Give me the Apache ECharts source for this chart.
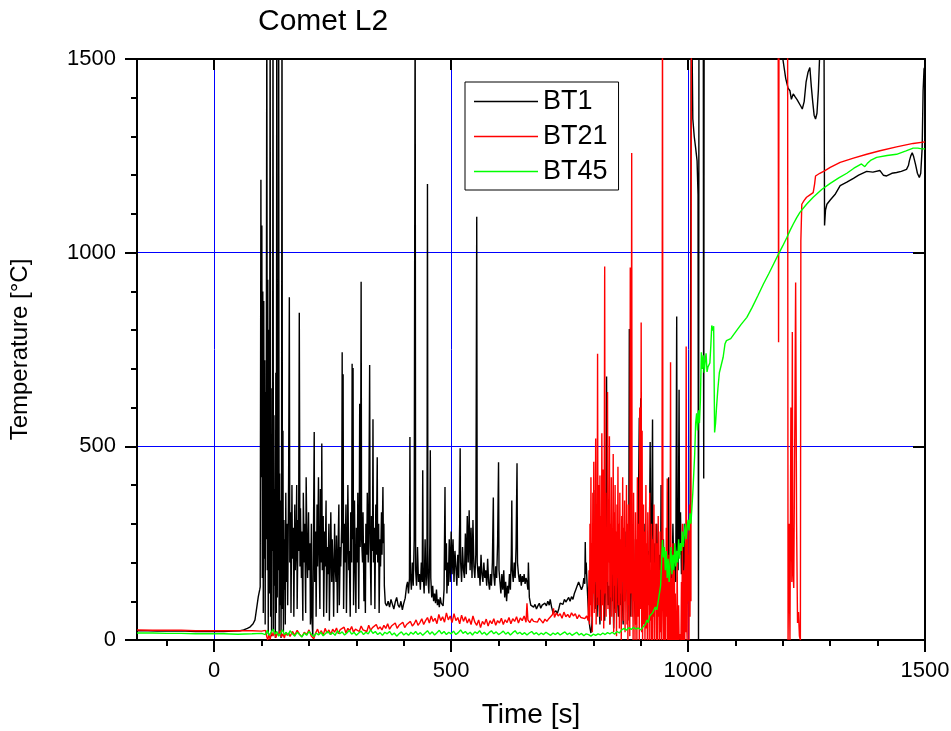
<!DOCTYPE html>
<html>
<head>
<meta charset="utf-8">
<script src="https://cdn.jsdelivr.net/npm/echarts@6/dist/echarts.min.js"></script>
<style>
  html, body { margin: 0; padding: 0; background: #ffffff; }
  #chart { width: 951px; height: 731px; }
</style>
</head>
<body>
<div id="chart"></div>
<script>
// Tick values shown on the axes
const timeTicks = [0, 500, 1000, 1500];
const tempTicks = [0, 500, 1000, 1500];
const seriesNames = ['BT1', 'BT21', 'BT45'];

// BT1 thermocouple: [time s, temperature °C]
const bt1 = [
  [-163,24],[-140,24],[-120,23],[-100,23],[-80,23],[-60,23],[-40,22],[-20,22],[0,22],[20,22],[40,23],[55,24],[62,26],[70,30],[76,34],[82,42],[86,52],[90,86],[93,112],[96,130],[97,137],
  [98.5,1188],[99.5,420],[100.5,1070],[101.5,160],[102.5,900],[103.5,70],[104.5,875],[105.5,210],[106.5,722],[107.5,40],[108.5,640],[109.5,260],[111,1700],[112,180],[113,930],[114,15],[115,801],[116,120],[117,560],[118,1700],[119,60],[120,650],[121,10],[122,470],[123,230],[124,1700],[125,25],[126,580],[127,140],[128,390],[129,5],[130,690],[131,70],[132,1700],[133,110],[134,470],[135,180],[136,1700],[137,15],[138,430],[139,90],[140,360],[141,5],[142,300],[143,1700],[144,80],[145,540],[146,20],[147,310],[148,130],[149,260],[150,40],[151,380],[152,150],
  [154,300],[155,90],[157,420],[158.5,885],[159.5,200],[161,330],[162,70],[164,400],[165,210],[167,290],[168,60],[170,350],[171,180],[173,260],[174,400],[175,80],[177,310],[178,230],[179.5,845],[181,190],[182,340],[184,160],[185,280],[187,50],[188,380],[190,200],[191,300],[193,70],[194,420],[196,210],[197,160],[199,330],[200,180],[202,250],[203,40],[205,300],[206,60],[208,10],[209,200],[211,537],[212,150],[214,280],[215,60],[217,350],[218,190],[220,420],[221,240],[223,80],[224,390],[226,200],[227,507],[228,180],[230,320],[231,60],[233,280],[234,190],[236,360],[237,70],[239,240],[240,170],[242,300],[243,50],[245,220],[246,330],[248,150],[249,260],[251,180],[252,60],[254,300],[255,200],[257,150],[258,270],[260,70],[261,210],[263,350],[264,90],[266,240],[267,190],[269,300],[270,743],[271,250],[272,686],[273,80],[275,300],[276,200],[278,350],[279,70],[281,260],[282,400],[284,180],[285,230],[287,60],[288,330],[290,200],[291,713],[292,260],[293,702],[294,90],[296,360],[297,220],[299,70],[300,290],[302,200],[303,380],[305,80],[306,270],[307,610],[308,240],[309,440],[310,925],[311,260],[313,200],[314,330],[316,100],[317,250],[319,70],[320,300],[322,220],[323,380],[325,200],[326,280],[328,710],[329,250],[331,90],[332,320],[334,230],[335,570],[336,200],[338,290],[339,80],[341,350],[342,220],[344,472],[345,200],[347,300],[348,70],[350,260],[351,190],[353,330],[354,220],[356,395],[357,250],[358,300],[359,140],[361,95],
  [364,88],[367,100],[370,85],[373,105],[376,92],[379,80],[382,98],[385,110],[388,90],[391,84],[394,100],[397,78],[400,95],[403,108],[406,140],
  [408,150],[410,120],[412,160],[413,524],[414,170],[416,130],[418,200],[420,140],[422,260],[424,1700],[425,180],[427,140],[429,240],[431,150],[433,170],[435,130],[437,200],[439,150],[440,438],[441,170],[443,120],[445,260],[447,140],[449,200],[450,1177],[451,160],[453,120],[455,250],[456,490],[457,160],[459,110],[461,140],[463,100],[465,120],[467,95],[469,130],[471,90],[473,105],[475,85],[477,110],[479,95],[481,100],[483,88],[485,130],[487,395],[488,180],[490,250],[491,120],[493,200],[494,140],[496,260],[498,150],
  [500,280],[502,170],[504,260],[506,150],[508,230],[510,190],[512,140],[514,220],[516,160],[518,300],[519,495],[520,200],[522,150],[524,240],[526,180],[528,160],[530,275],[532,170],[534,320],[536,200],[538,335],[540,180],[542,290],[544,160],[546,310],[548,190],[550,160],[552,220],[554,1093],[555,200],[557,160],
  [559,190],[561,140],[563,220],[565,170],[567,150],[569,200],[571,160],[573,180],[575,140],[577,210],[579,150],[581,130],[583,170],[585,140],[587,200],[589,368],[590,170],[592,140],[594,190],[596,160],[598,250],[600,459],[601,180],[603,150],[605,120],[607,170],[609,130],[611,180],[613,110],[615,150],[617,100],[619,140],[621,120],[623,170],[625,130],[627,220],[628,360],[629,180],[631,150],[633,200],[635,160],[637,240],[639,456],[640,200],[642,170],[644,150],[646,170],[648,140],[650,165],[652,150],[654,170],[656,145],[658,160],[660,150],[662,130],[663,200],
  [665,110],[668,90],[671,95],[674,85],[677,92],[680,80],[683,88],[686,95],[689,82],[692,90],[695,86],[698,95],[701,88],[704,100],[707,90],[709,105],[712,85],[715,70],[718,66],[721,75],[724,68],[727,80],[730,95],[733,100],[736,92],[739,105],[742,98],[745,102],[748,110],[751,100],[754,112],[757,105],[760,120],[763,130],[766,140],[769,150],[772,145],[775,130],[778,140],[780,160],[782,145],[783,253],[784,170],[785,200],[787,140],[789,90],[791,50],[793,30],[795,18],[797,40],
  [799,120],[800,200],[801,387],[802,150],[804,80],[806,180],[808,60],[810,220],[812,100],[814,40],[816,180],[818,90],[820,250],[822,120],[824,50],[826,160],[828,680],[829,200],[831,90],[833,140],[835,40],[837,210],[839,100],[841,170],[843,30],[845,150],[847,80],[849,230],[851,110],[853,60],[855,190],[857,90],[859,250],[861,120],[863,40],[865,170],[867,100],[869,280],[871,130],[873,50],[875,300],[876,803],[877,150],[879,60],[881,200],[883,120],[885,260],[887,100],[889,40],[891,180],[893,90],[895,320],[897,574],[898,200],[900,624],[901,150],[903,80],[905,260],[907,120],[909,300],[911,170],[913,90],[915,230],[917,140],[919,350],[920,511],[921,200],[923,280],[925,569],[926,180],[928,110],[930,250],[932,140],[934,300],[936,170],[938,90],[940,220],[942,150],[943,400],[944,180],[946,120],[948,260],[950,140],[952,80],[954,200],[956,130],[958,250],[959,420],[960,160],[962,110],[964,230],[966,140],[968,300],[970,170],[972,200],[974,150],[976,835],[977,250],[979,180],[981,646],[982,220],[984,330],[986,170],[988,250],[990,160],[992,300],[994,175],[996,200],[998,165],[1000,180],[1002,160],[1004,175],[1006,170],
  [1007,1700],[1010,1345],[1013,1300],[1016,1270],[1019,1237],[1021,1150],[1022,0],[1023,1700],[1032,1700],[1033,417],[1034,1700],[1198,1700],
  [1200,1500],[1206,1450],[1211,1425],[1215,1418],[1218,1396],[1222,1410],[1226,1402],[1230,1395],[1234,1390],[1238,1378],[1241,1371],[1245,1390],[1249,1440],[1253,1465],[1257,1478],[1260,1430],[1263,1390],[1266,1355],[1269,1345],[1272,1360],[1275,1420],[1278,1520],[1286,1700],[1287,1500],[1288,1070],[1290,1110],[1293,1125],[1300,1136],[1310,1150],[1321,1173],[1335,1182],[1349,1192],[1360,1200],[1377,1210],[1390,1208],[1405,1212],[1412,1200],[1419,1198],[1430,1205],[1440,1207],[1450,1210],[1461,1215],[1465,1225],[1467,1237],[1470,1250],[1473,1258],[1476,1248],[1480,1228],[1484,1205],[1488,1194],[1491,1205],[1494,1270],[1496,1418],[1498,1475],[1500,1480]
];

// BT21 thermocouple: [time s, temperature °C]
const bt21 = [
  [-163,26],[-130,25],[-100,25],[-70,25],[-40,24],[-10,24],[20,24],[50,24],[80,24],[100,23],
  [104,18],[108,25],[111,8],[113,0],[115,14],[118,2],[121,20],[124,10],[127,22],[130,6],[133,18],[136,12],[139,24],[142,8],[145,16],[148,5],[151,20],[154,12],[157,18],[160,9],
  [165,22],[170,12],[175,25],[180,15],[185,8],[190,20],[195,14],[200,26],[205,10],[210,3],[214,18],[218,28],[222,15],[226,24],[230,12],[234,30],[238,18],[242,26],[246,14],[250,28],[254,20],[258,31],[262,16],[266,27],[270,22],[274,33],[278,18],[282,30],[286,24],[290,35],[294,20],[298,28],[302,33],[306,22],[310,36],[314,26],[318,30],[322,22],[326,38],[330,25],[334,32],[338,27],[342,40],[346,28],[350,34],
  [354,26],[358,38],[362,30],[366,42],[370,28],[374,36],[378,32],[382,44],[386,30],[390,38],[394,34],[398,46],[402,32],[406,40],[410,35],[414,48],[418,36],[422,42],[426,52],[430,38],[434,45],[438,55],[442,40],[446,50],
  [450,58],[454,44],[458,62],[462,48],[466,56],[470,42],[474,66],[478,50],[482,60],[486,46],[490,70],[494,52],[498,62],[502,45],[506,68],[510,50],[514,58],[518,42],[522,64],[526,48],[530,60],[534,44],[538,55],[542,40],[546,62],
  [550,46],[554,38],[558,52],[562,32],[566,48],[570,40],[574,54],[578,36],[582,50],[586,42],[590,55],[594,38],[598,50],[602,44],[606,56],[610,40],[614,52],[618,45],
  [622,58],[626,42],[630,55],[634,48],[638,60],[642,44],[646,57],[650,50],[654,62],[658,46],[660,95],[662,52],[666,45],[670,55],[674,48],[678,53],[682,46],[686,56],[690,50],[694,44],[698,54],[702,48],[706,55],
  [710,60],[714,66],[716,82],[718,58],[722,70],[726,62],[730,68],[734,56],[738,72],[742,60],[746,66],[750,58],[754,70],[758,62],[762,68],[766,55],[770,65],[774,58],[778,62],[782,55],[786,62],[789,50],
  [790,50],[791,180],[792,40],[793,300],[794,90],[795,420],[796,60],[797,250],[798,20],[799,380],[800,120],[801,460],[802,70],[803,300],[804,150],[805,520],[806,40],[807,350],[808,110],[809,739],[810,90],[811,400],[812,180],[813,60],[814,425],[815,130],[816,320],[817,50],[818,534],[819,200],[820,90],[821,440],[822,30],[823,300],[824,964],[825,120],[826,380],[827,60],[828,290],[829,150],[830,640],[831,80],[832,360],[833,200],[834,526],[835,40],[836,300],[837,110],[838,420],[839,60],[840,250],[841,170],[842,480],[843,20],[844,330],[845,140],[846,400],[847,70],[848,280],[849,10],[850,350],[851,160],[852,447],[853,90],[854,300],[855,30],[856,380],[857,120],[858,260],[859,0],[860,320],[861,150],[862,420],[863,50],[864,290],[865,100],[866,360],[867,20],[868,240],[869,130],[870,400],[871,40],[872,300],[873,0],[874,350],[875,90],[876,280],[877,10],[878,962],[879,120],[880,310],[881,1257],[882,60],[883,250],[884,0],[885,380],[886,100],[887,200],[888,0],[889,330],[890,40],[891,260],[892,0],[893,420],[894,150],[895,60],[896,300],[897,0],[898,600],[899,80],[900,250],[901,820],[902,20],[903,540],[904,0],[905,200],[906,350],[907,40],[908,280],[909,0],[910,160],[911,400],[912,30],[913,250],[914,0],[915,330],[916,90],[917,220],[918,0],[919,380],[920,50],[921,180],[922,0],[923,300],[924,120],[925,0],[926,260],[927,60],[928,350],[929,0],[930,200],[931,80],[932,300],[933,0],[934,150],[935,250],[936,0],[937,320],[938,60],[939,180],[940,0],[941,280],[942,20],[943,140],[944,0],[945,300],[946,1700],[947,100],[948,0],[949,230],[950,40],[951,0],[952,180],[953,0],[954,290],[955,60],[956,417],[957,0],[958,150],[959,0],[960,220],[961,30],[962,0],[963,717],[964,40],[965,0],[966,160],[967,0],[968,250],[969,20],[970,0],[971,180],[972,0],[973,120],[974,0],[975,60],[976,0],[977,200],[978,10],[979,0],[980,90],[981,0],[982,15],[983,10],[984,20],[985,0],[986,150],[987,0],[988,300],[989,30],[990,0],[991,180],[992,40],[993,0],[994,250],[995,20],[996,758],[997,50],[998,0],[999,300],[1000,100],[1001,220],[1002,0],[1003,350],[1004,60],[1005,280],[1006,100],
  [1007,1700],[1190,1700],[1191,769],[1192,1700],[1210,1700],[1211,0],[1213,300],[1215,0],[1217,600],[1219,150],[1220,795],[1221,200],[1223,134],[1225,500],[1227,923],[1229,300],[1231,44],[1233,72],[1235,10],[1237,0],
  [1238,1031],[1240,1125],[1245,1135],[1250,1143],[1258,1150],[1264,1155],[1267,1177],[1269,1198],[1272,1200],[1278,1205],[1288,1211],[1300,1220],[1321,1233],[1349,1244],[1377,1254],[1405,1263],[1440,1273],[1475,1282],[1500,1286]
];

// BT45 thermocouple: [time s, temperature °C]
const bt45 = [
  [-163,18],[-130,18],[-100,17],[-70,17],[-40,16],[-10,16],[20,16],[50,15],[80,16],[100,17],
  [104,22],[108,14],[112,25],[116,12],[120,20],[124,28],[128,15],[132,22],[136,10],[140,18],[144,26],[148,14],[152,20],[156,12],[160,24],[165,16],[170,10],[175,20],[180,14],[185,8],[190,18],[195,12],[200,22],[205,15],[210,9],[215,18],[220,13],[225,20],[230,11],[235,17],[240,22],[245,14],[250,19],[255,12],[260,24],[265,16],[270,21],[275,13],[280,18],[285,25],[290,15],[295,20],[300,12],[305,18],[310,23],[315,14],[320,20],[325,16],[330,26],[335,17],[340,22],[345,14],[350,19],[355,12],[360,20],[365,16],[370,22],[375,13],[380,18],[385,10],[390,16],[395,21],[400,13],[405,18],[410,12],[415,20],[420,15],[425,22],[430,14],[435,19],[440,12],[445,18],[450,24],[455,15],[460,21],[465,13],[470,19],[475,25],[480,16],[485,22],[490,14],[495,20],
  [500,16],[505,23],[510,14],[515,19],[520,26],[525,17],[530,22],[535,15],[540,20],[545,13],[550,21],[555,17],[560,24],[565,15],[570,20],[575,13],[580,19],[585,24],[590,16],[595,21],[600,14],[605,18],[610,23],[615,15],[620,20],[625,13],[630,19],[635,24],[640,16],[645,20],[650,14],[655,19],[660,13],[665,18],[670,22],[675,15],[680,19],[685,13],[690,18],[695,14],[700,20],[705,16],[710,12],[715,18],[720,14],[725,19],[730,13],[735,17],[740,21],[745,14],[750,18],[755,12],[760,16],[765,20],[770,13],[775,17],[780,11],[785,16],[790,14],[795,10],[800,15],[805,12],
  [810,16],[815,13],[820,18],[825,14],[830,19],[835,16],[840,20],[845,15],[850,22],[855,18],[860,26],[865,30],[870,25],[875,32],[880,27],[885,33],[890,28],[895,31],[900,26],[905,34],[910,40],[913,52],[916,45],[919,62],[922,58],[925,70],[928,66],[931,85],[934,78],[937,100],[940,95],[942,140],[944,200],[946,258],[948,213],[950,240],[952,180],[954,230],[956,160],[958,210],[960,150],[962,200],[964,240],[966,170],[968,220],[970,180],[972,250],[974,190],[976,230],[978,200],[980,260],[982,210],[984,250],[986,230],[988,280],[990,240],[992,270],[994,300],[996,260],[998,290],[1000,310],[1002,283],[1004,327],[1006,300],[1008,340],[1010,380],[1012,430],[1014,480],[1016,560],[1018,585],[1020,541],[1022,593],[1024,560],[1026,620],[1028,743],[1030,700],[1032,735],[1034,690],[1036,720],[1038,740],[1040,692],[1042,705],[1044,700],[1046,715],[1048,760],[1050,812],[1052,799],[1054,810],[1056,536],[1058,560],[1060,600],[1063,650],[1066,690],[1070,710],[1074,730],[1078,765],[1081,773],[1083,768],[1085,772],[1090,778],[1100,795],[1112,815],[1124,833],[1135,858],[1147,888],[1159,919],[1170,945],[1181,972],[1191,997],[1200,1018],[1208,1038],[1215,1057],[1222,1074],[1229,1090],[1236,1104],[1250,1125],[1264,1143],[1282,1163],[1300,1179],[1318,1193],[1335,1205],[1350,1218],[1366,1229],[1370,1226],[1373,1222],[1378,1230],[1385,1238],[1398,1246],[1420,1251],[1440,1254],[1460,1263],[1475,1270],[1485,1270],[1493,1268],[1500,1268]
];

const FONT = '"Liberation Sans", Arial, Helvetica, sans-serif';
const frame = { color: '#000000', width: 2 };
const gridBlue = { color: '#0000ff', width: 1 };
const plainNumber = (v) => String(v);

function traceSeries(name, data, color) {
  return {
    name: name,
    type: 'line',
    data: data,
    xAxisIndex: 0,
    yAxisIndex: 0,
    symbol: 'none',
    showSymbol: false,
    clip: true,
    lineStyle: { color: color, width: 1.4 },
    itemStyle: { color: color },
    emphasis: { disabled: true }
  };
}

const chart = echarts.init(document.getElementById('chart'), null, { renderer: 'canvas' });
chart.setOption({
  animation: false,
  backgroundColor: '#ffffff',
  title: {
    text: 'Comet L2',
    left: 253,
    top: 2,
    textStyle: { fontFamily: FONT, fontSize: 30, fontWeight: 'normal', color: '#000000' }
  },
  legend: {
    data: seriesNames.map((n) => ({ name: n, icon: 'rect' })),
    orient: 'vertical',
    left: 465,
    top: 82,
    itemWidth: 64,
    itemHeight: 1.4,
    itemGap: 8,
    padding: [6, 11, 5, 9],
    backgroundColor: '#ffffff',
    borderColor: '#000000',
    borderWidth: 1,
    borderRadius: 0,
    selectedMode: false,
    textStyle: { fontFamily: FONT, fontSize: 27, color: '#000000' }
  },
  grid: { left: 137, right: 26, top: 59, bottom: 91, containLabel: false, outerBoundsMode: 'none' },
  xAxis: [
    {
      type: 'value', position: 'bottom', min: -163, max: 1500, splitNumber: 3,
      name: 'Time [s]', nameLocation: 'middle', nameGap: 61,
      nameTextStyle: { fontFamily: FONT, fontSize: 28, color: '#000000' },
      axisLine: { show: true, onZero: false, lineStyle: frame },
      axisTick: { show: true, inside: false, length: 12, customValues: timeTicks, lineStyle: frame },
      minorTick: { show: true, splitNumber: 5, length: 6, lineStyle: frame },
      axisLabel: { show: true, customValues: timeTicks, formatter: plainNumber, margin: 20, fontFamily: FONT, fontSize: 22, color: '#000000' },
      splitLine: { show: true, showMaxLine: false, lineStyle: gridBlue },
      minorSplitLine: { show: false }
    },
    {
      type: 'value', position: 'top', min: -163, max: 1500, splitNumber: 3,
      axisLine: { show: true, onZero: false, lineStyle: frame },
      axisTick: { show: true, inside: true, length: 11, customValues: timeTicks, lineStyle: frame },
      axisLabel: { show: false },
      splitLine: { show: false }
    }
  ],
  yAxis: [
    {
      type: 'value', position: 'left', min: 0, max: 1500, interval: 500,
      name: 'Temperature [°C]', nameLocation: 'middle', nameGap: 105,
      nameTextStyle: { fontFamily: FONT, fontSize: 24, color: '#000000' },
      axisLine: { show: true, onZero: false, lineStyle: frame },
      axisTick: { show: true, inside: false, length: 12, customValues: tempTicks, lineStyle: frame },
      minorTick: { show: true, splitNumber: 5, length: 6, lineStyle: frame },
      axisLabel: { show: true, customValues: tempTicks, formatter: plainNumber, margin: 21, fontFamily: FONT, fontSize: 22, color: '#000000' },
      splitLine: { show: true, showMinLine: false, showMaxLine: false, lineStyle: gridBlue },
      minorSplitLine: { show: false }
    },
    {
      type: 'value', position: 'right', min: 0, max: 1500, interval: 500,
      axisLine: { show: true, onZero: false, lineStyle: frame },
      axisTick: { show: true, inside: true, length: 12, lineStyle: frame },
      axisLabel: { show: false },
      splitLine: { show: false }
    }
  ],
  series: [
    traceSeries(seriesNames[0], bt1, '#000000'),
    traceSeries(seriesNames[1], bt21, '#ff0000'),
    traceSeries(seriesNames[2], bt45, '#00ff00')
  ]
});
</script>
</body>
</html>
